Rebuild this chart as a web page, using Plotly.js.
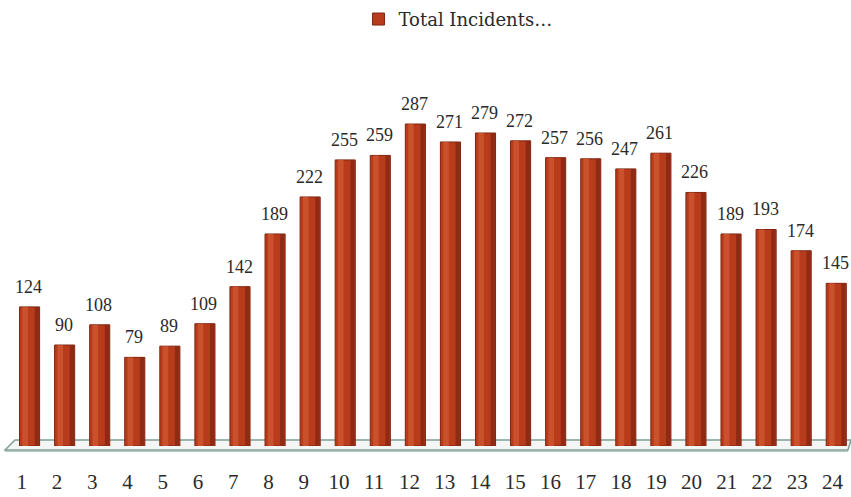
<!DOCTYPE html>
<html>
<head>
<meta charset="utf-8">
<script src="https://cdn.plot.ly/plotly-3.0.1.min.js"></script>
<style>
  html, body { margin: 0; padding: 0; background: #ffffff; }
  #chart { width: 851px; height: 497px; }
</style>
</head>
<body>
<div id="chart"></div>
<script>
// Hour of day (1–24) and the number of incidents recorded in each hour
const hours = [1, 2, 3, 4, 5, 6, 7, 8, 9, 10, 11, 12, 13, 14, 15, 16, 17, 18, 19, 20, 21, 22, 23, 24];
const incidents = [124, 90, 108, 79, 89, 109, 142, 189, 222, 255, 259, 287, 271, 279, 272, 257, 256, 247, 261, 226, 189, 193, 174, 145];
const tickLabels = hours.map(String);
const seriesName = 'Total Incidents…';

const serif = 'Liberation Serif, DejaVu Serif, serif';

// Columns sit slightly right of their tick, less so towards the right end
// (the chart is drawn in a mild perspective).
const shiftOf = i => 0.115 * i / (hours.length - 1);
const bodyOffset = hours.map((h, i) => -0.06 - shiftOf(i));
const sheenOffset = hours.map((h, i) => 0.02 - shiftOf(i));
const shadeOffset = hours.map((h, i) => 0.37 - shiftOf(i));

// Main column body
const body = {
  type: 'bar',
  x: hours,
  y: incidents,
  name: seriesName,
  width: 0.57,
  offset: bodyOffset,
  marker: { color: '#b83b1c', line: { color: '#7e2511', width: 1 } },
  hoverinfo: 'x+y'
};
// Lighter front-left sheen
const sheen = {
  type: 'bar',
  x: hours,
  y: incidents,
  width: 0.16,
  offset: sheenOffset,
  marker: { color: '#c9512b', line: { width: 0 } },
  showlegend: false,
  hoverinfo: 'skip'
};
// Darker right-hand side of each column
const shade = {
  type: 'bar',
  x: hours,
  y: incidents,
  width: 0.12,
  offset: shadeOffset,
  marker: { color: '#8f2a14', line: { width: 0 } },
  showlegend: false,
  hoverinfo: 'skip'
};

// Value labels above the columns
const pxPerCat = 846 / 24;
const valueLabels = hours.map((h, i) => ({
  x: h, y: incidents[i], xref: 'x', yref: 'y',
  text: String(incidents[i]),
  showarrow: false, yanchor: 'bottom', xanchor: 'center',
  xshift: (0.225 - shiftOf(i)) * pxPerCat - 1, yshift: 8,
  font: { family: serif, size: 18, color: '#2a2a2a' }
}));

const layout = {
  width: 851,
  height: 497,
  margin: { l: 4, r: 1, t: 82, b: 51, pad: 0 },
  paper_bgcolor: '#ffffff',
  plot_bgcolor: 'rgba(0,0,0,0)',
  barmode: 'overlay',
  showlegend: true,
  legend: {
    orientation: 'h',
    x: 0.419, y: 1.24, xanchor: 'left', yanchor: 'top',
    font: { family: 'DejaVu Serif, serif', size: 18, color: '#2a2a2a' },
    bgcolor: 'rgba(0,0,0,0)'
  },
  xaxis: {
    range: [0.5, 24.5],
    tickmode: 'array',
    tickvals: hours,
    ticktext: tickLabels,
    showgrid: false, zeroline: false, showline: false,
    ticks: '',
    ticklabelstandoff: 21,
    tickfont: { family: serif, size: 21, color: '#2a2a2a' },
    fixedrange: true
  },
  yaxis: {
    range: [0, 320],
    visible: false,
    showgrid: false, zeroline: false,
    fixedrange: true
  },
  shapes: [
    // Floor plane under the columns
    {
      type: 'path', xref: 'paper', yref: 'paper', layer: 'below',
      path: 'M 0.0012,-0.011 L 0.013,0.0165 L 1.0012,0.0165 L 0.9976,-0.011 Z',
      fillcolor: '#f4f6f5',
      line: { color: '#7d9f97', width: 1.5 }
    },
    {
      type: 'line', xref: 'paper', yref: 'paper', layer: 'below',
      x0: 0.0012, x1: 0.9976, y0: -0.014, y1: -0.014,
      line: { color: '#9cb3ad', width: 1.5 }
    }
  ],
  annotations: valueLabels
};

Plotly.newPlot('chart', [body, sheen, shade], layout, { displayModeBar: false, staticPlot: true });
</script>
</body>
</html>
